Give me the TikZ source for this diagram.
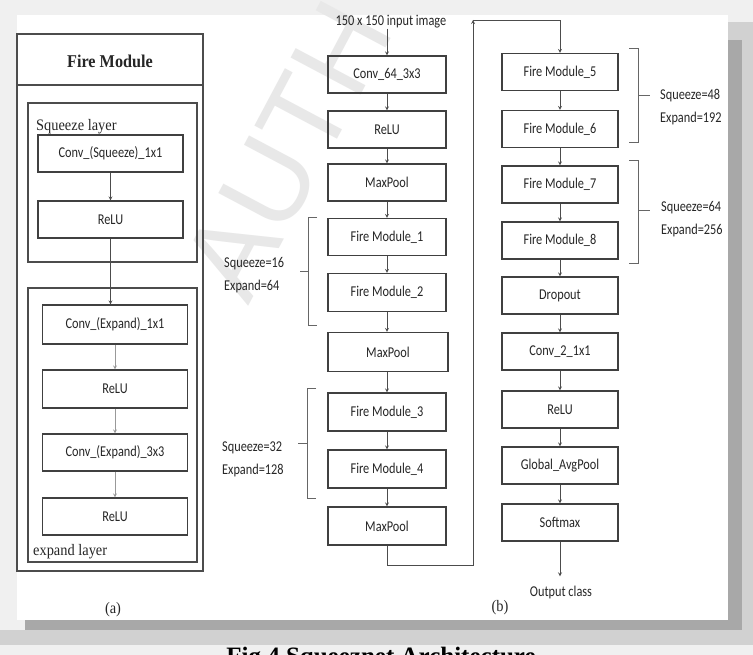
\documentclass[tikz,border=0pt]{standalone}
\usepackage{fontspec}
\setmainfont{Carlito}
\newfontfamily\cond[FakeStretch=0.82]{Carlito}
\newfontfamily\serifc[FakeStretch=0.9]{Liberation Serif}
\newfontfamily\capfont{Liberation Serif}
\newfontfamily\wmfont{Liberation Sans}

\begin{document}
\begin{tikzpicture}
[
x=1pt, y=-1pt,
layer/.style={draw=black!70, line width=1.1pt},
blk/.style={draw=black!75, line width=1.1pt, minimum width=118pt,
minimum height=37pt, inner sep=0pt, text=black!85,
font=\cond\fontsize{15}{18}\selectfont},
blka/.style={blk, minimum width=145pt},
blkb/.style={blk, minimum width=116pt},
txt/.style={inner sep=0pt, text=black!85, align=left,
font=\cond\fontsize{15}{23}\selectfont},
sertxt/.style={inner sep=0pt, text=black!85,
font=\serifc\fontsize{16}{18}\selectfont},
link/.style={-stealth, black!70, line width=0.8pt},
faint/.style={-stealth, black!40, line width=0.8pt},
brk/.style={black!60, line width=0.8pt}
]
\useasboundingbox (0,0) rectangle (753,655);
\fill[black!6] (0,0) rectangle (753,655);
\fill[white] (17,15) rectangle (728,620);
\node[rotate=62, text=black!9, font=\wmfont\fontsize{115}{115}\selectfont] (wm) at (288,150) {AUTH};

% (a) fire module
\draw[layer] (17,34) rectangle (203,571);
\draw[layer] (17,85) -- (203,85);
\node[text=black!85, font=\serifc\bfseries\fontsize{18}{20}\selectfont] (fmtitle) at (110,61) {Fire Module};
\draw[layer] (28,103) rectangle (197,262);
\node[sertxt, anchor=base west] (sqlabel) at (36,131) {Squeeze layer};
\node[blka] (sqconv) at (110.5,153.5) {Conv\_(Squeeze)\_1x1};
\node[blka] (sqrelu) at (110.5,219.5) {ReLU};
\draw[layer] (28,288) rectangle (197,562);
\node[blka, minimum height=39pt] (exconv1) at (115,324.5) {Conv\_(Expand)\_1x1};
\node[blka, minimum height=38pt] (exrelu1) at (115,389) {ReLU};
\node[blka] (exconv3) at (115,452.5) {Conv\_(Expand)\_3x3};
\node[blka] (exrelu2) at (115,516.5) {ReLU};
\node[sertxt, anchor=base west] (exlabel) at (33,555) {expand layer};
\node[sertxt] (capa) at (113,610) {(a)};
\draw[link] (sqconv) -- (sqrelu);
\draw[link] (sqrelu.south) -- (sqrelu.south |- exconv1.north);
\draw[faint] (exconv1) -- (exrelu1);
\draw[faint] (exrelu1) -- (exconv3);
\draw[faint] (exconv3) -- (exrelu2);

% (b) left column
\node[txt] (inimg) at (391,22) {150 x 150 input image};
\node[blk] (conv64) at (387,74.5) {Conv\_64\_3x3};
\node[blk] (relu1) at (387,129.5) {ReLU};
\node[blk] (pool1) at (387,182.5) {MaxPool};
\node[blk] (fire1) at (387,237) {Fire Module\_1};
\node[blk, minimum height=38pt] (fire2) at (387,292.5) {Fire Module\_2};
\node[blk, minimum width=120pt, minimum height=39pt] (pool2) at (388,352) {MaxPool};
\node[blk, minimum height=38pt] (fire3) at (387,412) {Fire Module\_3};
\node[blk, minimum height=38pt] (fire4) at (387,469) {Fire Module\_4};
\node[blk, minimum height=38pt] (pool3) at (387,526) {MaxPool};
\draw[link] (inimg.south -| conv64) -- (conv64);
\draw[link] (conv64) -- (relu1);
\draw[link] (relu1) -- (pool1);
\draw[link] (pool1) -- (fire1);
\draw[link] (fire1) -- (fire2);
\draw[link] (fire2) -- (fire2 |- pool2.north);
\draw[link] (fire2 |- pool2.south) -- (fire3);
\draw[link] (fire3) -- (fire4);
\draw[link] (fire4) -- (pool3);

% brackets, left
\draw[brk] (317,217) -- (308,217) -- (308,325) -- (317,325);
\draw[brk] (308,271) -- (300,271);
\node[txt, anchor=west] (sq16) at (224,275) {Squeeze=16\\Expand=64};
\draw[brk] (316,388) -- (307,388) -- (307,498) -- (316,498);
\draw[brk] (307,443) -- (298,443);
\node[txt, anchor=west] (sq32) at (222,459) {Squeeze=32\\Expand=128};

% loop over to right column
\coordinate (loopbl) at (473,565);
\coordinate (looptl) at (473,20);
\draw[link] (pool3.south) |- (loopbl) -- (looptl);

% (b) right column
\node[blkb] (fire5) at (560,72) {Fire Module\_5};
\node[blkb] (fire6) at (560,129) {Fire Module\_6};
\node[blkb] (fire7) at (560,184.5) {Fire Module\_7};
\node[blkb] (fire8) at (560,240.5) {Fire Module\_8};
\node[blkb] (drop) at (560,295.5) {Dropout};
\node[blkb] (conv2) at (560,351.5) {Conv\_2\_1x1};
\node[blkb] (relu2) at (560,409.5) {ReLU};
\node[blkb] (gpool) at (560,465.5) {Global\_AvgPool};
\node[blkb] (smax) at (560,522.5) {Softmax};
\node[txt] (outcls) at (561,592) {Output class};
\node[sertxt] (capb) at (500,608) {(b)};
\draw[link] (looptl) -| (fire5.north);
\draw[link] (fire5) -- (fire6);
\draw[link] (fire6) -- (fire7);
\draw[link] (fire7) -- (fire8);
\draw[link] (fire8) -- (drop);
\draw[link] (drop) -- (conv2);
\draw[link] (conv2) -- (relu2);
\draw[link] (relu2) -- (gpool);
\draw[link] (gpool) -- (smax);
\draw[link, shorten >=9pt] (smax.south) -- (smax.south |- outcls.north);

% brackets, right
\draw[brk] (629,48) -- (638,48) -- (638,142) -- (629,142);
\draw[brk] (638,95) -- (650,95);
\node[txt, anchor=west] (sq48) at (660,107) {Squeeze=48\\Expand=192};
\draw[brk] (629,160) -- (638,160) -- (638,263) -- (629,263);
\draw[brk] (638,210) -- (650,210);
\node[txt, anchor=west] (sq64) at (661,219) {Squeeze=64\\Expand=256};

% page shadow and caption
\fill[black!18] (728,22) rectangle (753,645);
\fill[black!34] (728,40) rectangle (742,630);
\fill[black!18] (0,630) rectangle (753,645);
\fill[black!34] (25,620) rectangle (742,630);
\node[anchor=north, inner sep=0pt, text=black,
font=\capfont\bfseries\fontsize{25}{27}\selectfont] (figcap) at (381,647) {Fig.4 Squeeznet Architecture};
\end{tikzpicture}
\end{document}
